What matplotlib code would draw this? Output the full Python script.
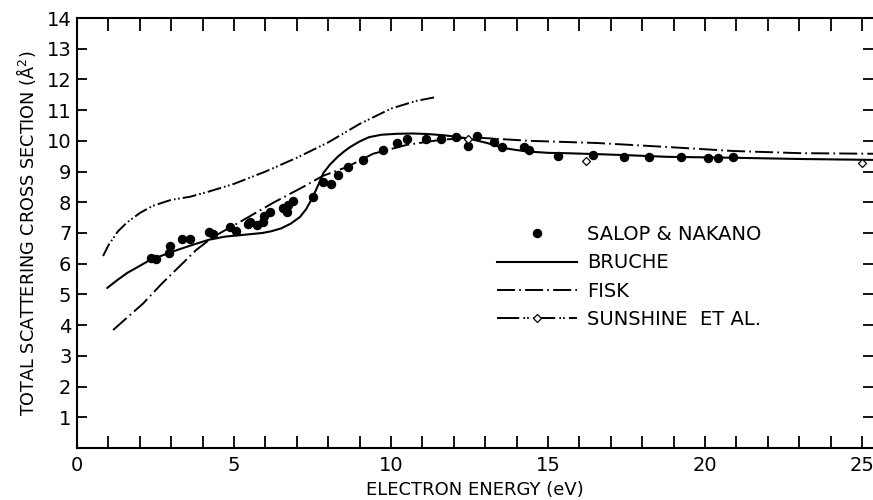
import numpy as np
import matplotlib
matplotlib.use("Agg")
import matplotlib.pyplot as plt
from matplotlib.lines import Line2D

plt.rcParams['font.family'] = ['DejaVu Sans']
plt.rcParams['lines.scale_dashes'] = False

# Salop & Nakano measured points
salop_x = [2.36, 2.52, 2.96, 2.93, 3.34, 3.6, 4.2, 4.33, 4.87, 5.06, 5.44, 5.5, 5.73,
           5.92, 5.96, 6.15, 6.56, 6.69, 6.72, 6.88, 7.52, 7.85, 8.09, 8.3, 8.63, 9.12,
           9.73, 10.19, 10.5, 11.1, 11.58, 12.07, 12.45, 12.74, 13.27, 13.54, 14.24,
           14.39, 15.32, 16.43, 17.42, 18.22, 19.24, 20.1, 20.4, 20.9]
salop_y = [6.2, 6.14, 6.58, 6.35, 6.81, 6.8, 7.04, 6.97, 7.2, 7.05, 7.28, 7.35, 7.26,
           7.36, 7.55, 7.69, 7.82, 7.68, 7.9, 8.05, 8.18, 8.66, 8.58, 8.9, 9.15, 9.38,
           9.71, 9.93, 10.07, 10.05, 10.05, 10.13, 9.84, 10.16, 9.97, 9.8, 9.8,
           9.71, 9.51, 9.54, 9.48, 9.48, 9.47, 9.45, 9.45, 9.48]

# Bruche (solid)
bruche_x = [0.96, 1.3, 1.6, 2.0, 2.32, 2.8, 3.2, 3.7, 4.2, 4.7, 5.2, 5.6, 5.9, 6.2, 6.5,
            6.8, 7.1, 7.3, 7.5, 7.7, 7.85, 8.05, 8.3, 8.5, 8.7, 9.0, 9.3, 9.7, 10.2,
            10.7, 11.2, 11.7, 12.1, 12.5, 13.06, 13.57, 14.0, 14.4, 15.0, 15.5, 16.5,
            17.6, 18.8, 20.9, 23.0, 25.35]
bruche_y = [5.21, 5.48, 5.7, 5.93, 6.12, 6.3, 6.45, 6.62, 6.78, 6.88, 6.93, 6.97, 7.0,
            7.06, 7.15, 7.3, 7.52, 7.78, 8.15, 8.6, 8.96, 9.22, 9.48, 9.65, 9.8, 9.98,
            10.12, 10.2, 10.23, 10.24, 10.22, 10.18, 10.13, 10.07, 9.93, 9.77, 9.7,
            9.65, 9.61, 9.6, 9.57, 9.53, 9.48, 9.45, 9.41, 9.38]

# Fisk (dash-dot)
fisk_x = [1.15, 1.6, 2.1, 2.7, 3.3, 3.8, 4.33, 5.19, 6.24, 7.2, 7.83, 8.6, 9.43, 10.5,
          11.56, 12.42, 12.83, 14.43, 16.56, 17.6, 18.8, 20.9, 23.0, 25.35]
fisk_y = [3.84, 4.25, 4.7, 5.35, 5.95, 6.45, 6.87, 7.36, 7.98, 8.5, 8.86, 9.15, 9.58,
          9.87, 10.03, 10.1, 10.1, 10.0, 9.93, 9.87, 9.8, 9.67, 9.6, 9.58]

# Sunshine et al. (dash-dot-dot curve + diamonds)
sun_x = [0.83, 1.0, 1.3, 1.6, 2.0, 2.4, 3.0, 3.6, 4.2, 5.0, 6.0, 7.0, 8.0, 9.0, 10.0,
         10.8, 11.4]
sun_y = [6.25, 6.6, 7.05, 7.35, 7.65, 7.88, 8.08, 8.18, 8.35, 8.6, 9.0, 9.45, 9.95,
         10.55, 11.05, 11.3, 11.42]
sun_pts_x = [12.45, 16.2, 25.0]
sun_pts_y = [10.07, 9.35, 9.27]

xticks_major = [0, 5, 10, 15, 20, 25]
yticks = list(range(1, 15))

fisk_ls = (0, (13, 3, 1.2, 3))
sun_ls = (0, (10, 2.2, 1.2, 1.8, 1.2, 2.2))

fig = plt.figure(figsize=(8.73, 5.0), dpi=100)
ax = fig.add_axes([77 / 873, 52 / 500, 796 / 873, 430 / 500])

ax.plot(bruche_x, bruche_y, color='black', lw=1.5, solid_capstyle='round')
ax.plot(fisk_x, fisk_y, color='black', lw=1.4, linestyle=fisk_ls)
ax.plot(sun_x, sun_y, color='black', lw=1.4, linestyle=sun_ls)
ax.plot(salop_x, salop_y, 'o', color='black', markersize=5.8, linestyle='none')
ax.plot(sun_pts_x, sun_pts_y, 'D', markerfacecolor='white', markeredgecolor='black',
        markersize=4, markeredgewidth=0.9, linestyle='none')

ax.set_xlim(0, 25.35)
ax.set_ylim(0, 14)
ax.set_xticks(xticks_major)
ax.set_xticks(range(1, 26), minor=True)
ax.set_yticks(yticks)
ax.tick_params(axis='both', which='both', direction='in', top=True, right=True,
               width=1.3, labelsize=14)
ax.tick_params(axis='x', which='both', length=9, pad=6)
ax.tick_params(axis='y', which='both', length=7, pad=4)
ax.spines['right'].set_visible(False)
for s in ['left', 'bottom', 'top']:
    ax.spines[s].set_linewidth(1.5)

ax.set_xlabel('ELECTRON ENERGY (eV)', fontsize=13, labelpad=4)
ax.set_ylabel('TOTAL SCATTERING CROSS SECTION (Å$^2$)', fontsize=12.7, labelpad=6)

handles = [
    Line2D([], [], marker='o', color='black', linestyle='none', markersize=5.8),
    Line2D([], [], color='black', lw=1.5),
    Line2D([], [], color='black', lw=1.4, linestyle=fisk_ls),
    Line2D([], [], color='black', lw=1.4, linestyle=(0, (16, 3, 1.2, 1.5, 1.2, 3)),
           marker='D', markerfacecolor='white', markeredgecolor='black',
           markersize=4, markeredgewidth=0.9),
]
labels = ['SALOP & NAKANO', 'BRUCHE', 'FISK', 'SUNSHINE  ET AL.']
ax.legend(handles, labels, loc='upper left', bbox_to_anchor=(0.528, 0.518),
          frameon=False, fontsize=14, handlelength=4.1, handletextpad=0.5,
          labelspacing=0.47, borderpad=0, borderaxespad=0, numpoints=1)

fig.savefig('out.png', dpi=100)
